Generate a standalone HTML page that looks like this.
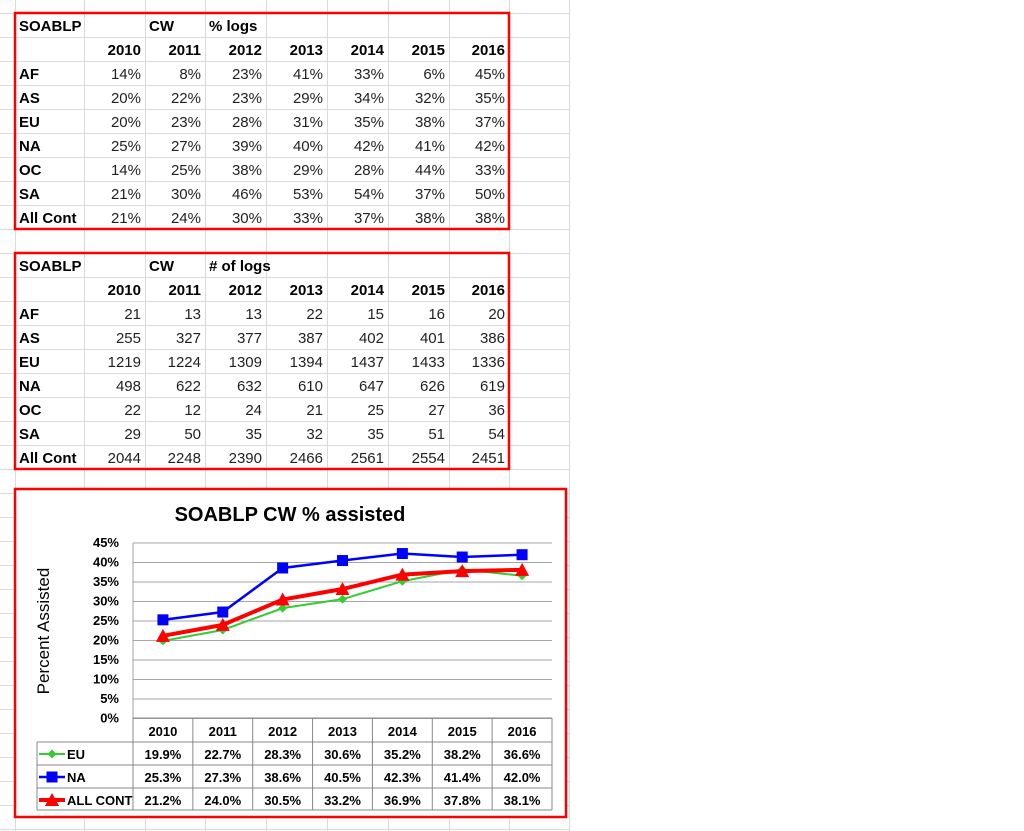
<!DOCTYPE html>
<html><head><meta charset="utf-8"><style>
body{margin:0;background:#fff;}
svg{display:block;font-family:"Liberation Sans",sans-serif;}
</style></head><body>
<svg id="s" width="1024" height="831" viewBox="0 0 1024 831"></svg>
<script>
const years = ["2010","2011","2012","2013","2014","2015","2016"];
const pctRows = ["AF","AS","EU","NA","OC","SA","All Cont"];
const pctVals = [[14,8,23,41,33,6,45],[20,22,23,29,34,32,35],[20,23,28,31,35,38,37],[25,27,39,40,42,41,42],[14,25,38,29,28,44,33],[21,30,46,53,54,37,50],[21,24,30,33,37,38,38]];
const logVals = [[21,13,13,22,15,16,20],[255,327,377,387,402,401,386],[1219,1224,1309,1394,1437,1433,1336],[498,622,632,610,647,626,619],[22,12,24,21,25,27,36],[29,50,35,32,35,51,54],[2044,2248,2390,2466,2561,2554,2451]];
const euVals = [19.9,22.7,28.3,30.6,35.2,38.2,36.6];
const naVals = [25.3,27.3,38.6,40.5,42.3,41.4,42.0];
const allVals = [21.2,24.0,30.5,33.2,36.9,37.8,38.1];
const yTicks = [0,5,10,15,20,25,30,35,40,45];

const NS="http://www.w3.org/2000/svg";
const s=document.getElementById('s');
function el(tag,attrs,parent,text){const e=document.createElementNS(NS,tag);for(const k in attrs)e.setAttribute(k,attrs[k]);if(text!==undefined)e.textContent=text;(parent||s).appendChild(e);return e;}

const colX=[15,84,145,205,266,327,388,449,509,569];
const g=el('g',{});


for(let y=13-24;y<831;y+=24){el('line',{x1:0,x2:569,y1:y+0.5,y2:y+0.5,stroke:'#dadada'},g);}
colX.forEach(x=>el('line',{x1:x+0.5,x2:x+0.5,y1:0,y2:831,stroke:'#dadada'},g));

function table(top,title,sub,vals,fmt,name){
  const t=el('g',{});
  
  
  const ty=r=>top+24*r+18;
  el('text',{x:19,y:ty(0),'font-size':15,'font-weight':'bold'},t,'SOABLP');
  el('text',{x:149,y:ty(0),'font-size':15,'font-weight':'bold'},t,'CW');
  el('text',{x:209,y:ty(0),'font-size':15,'font-weight':'bold'},t,sub);
  years.forEach((yr,i)=>el('text',{x:colX[i+2]-4,y:ty(1),'font-size':15,'font-weight':'bold','text-anchor':'end'},t,yr));
  pctRows.forEach((r,j)=>{
    el('text',{x:19,y:ty(j+2),'font-size':15,'font-weight':'bold'},t,r);
    vals[j].forEach((v,i)=>el('text',{x:colX[i+2]-4,y:ty(j+2),'font-size':15,'text-anchor':'end',fill:'#222'},t,fmt(v)));
  });
  el('rect',{x:15,y:top,width:494,height:216,fill:'none',stroke:'#f00','stroke-width':2.5},t);
}
table(13,'SOABLP','% logs',pctVals,v=>v+'%','percent-logs-table');
table(253,'SOABLP','# of logs',logVals,v=>String(v),'number-of-logs-table');

const c=el('g',{});


el('rect',{x:15,y:489,width:551,height:328,fill:'#fff',stroke:'#f00','stroke-width':2.5},c);
const title=el('text',{x:290,y:521,'font-size':20,'font-weight':'bold','text-anchor':'middle'},c,'SOABLP CW % assisted');


const yt=el('text',{x:0,y:0,'font-size':17,'text-anchor':'middle',transform:'translate(49,631) rotate(-90)'},c,'Percent Assisted');


const L=133,R=552,Y0=718.5,Y45=543;
const xs=i=>L+(R-L)/years.length*(i+0.5);
const ys=v=>Y0-(Y0-Y45)*v/45;
yTicks.forEach(v=>{
  const gl=el('line',{x1:L,x2:R,y1:ys(v),y2:ys(v),stroke:'#a6a6a6','stroke-width':1},c);
  
  
  const tl=el('text',{x:119,y:ys(v)+4,'font-size':13,'font-weight':'bold','text-anchor':'end'},c,v+'%');
  
  
});
el('line',{x1:L,x2:L,y1:Y45,y2:Y0,stroke:'#a6a6a6'},c);
const rowsY=[718,742,765,788,810];
const tg=el('g',{},c);


rowsY.forEach((y,k)=>el('line',{x1:k==0?L:37,x2:R,y1:y,y2:y,stroke:'#888'},tg));
el('line',{x1:37,x2:37,y1:742,y2:810,stroke:'#888'},tg);
for(let i=0;i<=years.length;i++){el('line',{x1:L+(R-L)/7*i,x2:L+(R-L)/7*i,y1:718,y2:810,stroke:'#888'},tg);}
years.forEach((yr,i)=>el('text',{x:xs(i),y:736,'font-size':13,'font-weight':'bold','text-anchor':'middle'},tg,yr));
const series=[{n:'EU',v:euVals,c:'#33cc33',w:2,m:'d'},{n:'NA',v:naVals,c:'#0000ff',w:2.5,m:'s'},{n:'ALL CONT',v:allVals,c:'#ff0000',w:4,m:'t'}];
function marker(p,m,x,y,col){
  if(m=='d')return el('polygon',{points:`${x},${y-4.5} ${x+4.5},${y} ${x},${y+4.5} ${x-4.5},${y}`,fill:col},p);
  if(m=='s')return el('rect',{x:x-5.5,y:y-5.5,width:11,height:11,fill:col},p);
  return el('polygon',{points:`${x},${y-7} ${x+7},${y+6} ${x-7},${y+6}`,fill:col},p);
}
series.forEach((se,k)=>{
  const ry=rowsY[k+1]+17;
  const lg=el('g',{},tg);
  
  
  el('line',{x1:39,x2:65,y1:ry-5,y2:ry-5,stroke:se.c,'stroke-width':se.w},lg);
  marker(lg,se.m,52,ry-5,se.c);
  el('text',{x:67,y:ry,'font-size':13,'font-weight':'bold'},lg,se.n);
  se.v.forEach((v,i)=>el('text',{x:xs(i),y:ry,'font-size':13,'font-weight':'bold','text-anchor':'middle'},tg,v.toFixed(1)+'%'));
});
series.forEach(se=>{
  const sg=el('g',{},c);
  
  
  el('polyline',{points:se.v.map((v,i)=>xs(i)+','+ys(v)).join(' '),fill:'none',stroke:se.c,'stroke-width':se.w},sg);
  se.v.forEach((v,i)=>{const mk=marker(sg,se.m,xs(i),ys(v),se.c);
    
    });
});
</script>
</body></html>
